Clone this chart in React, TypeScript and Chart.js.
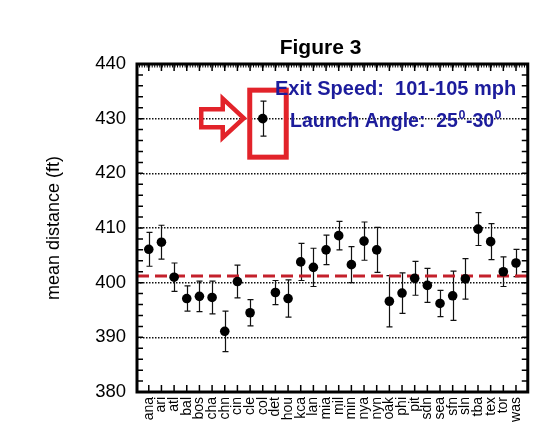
import React, { useEffect, useRef } from "react";
import { Chart, registerables } from "chart.js";

Chart.register(...registerables);

const categories = [
  "ana", "ari", "atl", "bal", "bos", "cha", "chn", "cin", "cle", "col",
  "det", "hou", "kca", "lan", "mia", "mil", "min", "nya", "nyn", "oak",
  "phi", "pit", "sdn", "sea", "sfn", "sln", "tba", "tex", "tor", "was",
];
const means = [
  406.1, 407.4, 401.0, 397.1, 397.5, 397.3, 391.1, 400.2, 394.5, 430.0,
  398.2, 397.1, 403.8, 402.8, 406.0, 408.6, 403.3, 407.6, 406.0, 396.6,
  398.1, 400.8, 399.5, 396.2, 397.6, 400.7, 409.8, 407.5, 402.0, 403.6,
];
const errors = [
  3.1, 3.1, 2.6, 2.3, 2.8, 3.0, 3.7, 3.0, 2.4, 3.2,
  2.2, 3.4, 3.4, 3.5, 2.7, 2.6, 3.3, 3.5, 4.1, 4.7,
  3.7, 3.1, 3.1, 2.4, 4.5, 3.7, 3.0, 3.3, 2.7, 2.5,
];
const leagueMean = 401.2;
const yMin = 380;
const yMax = 440;
const yStep = 10;
const xMin = -0.93;
const xMax = 29.93;
const highlightIndex = 9;
const titleText = "Figure 3";
const yTitle = "mean distance (ft)";
const note1 = "Exit Speed:  101-105 mph";
const note2 = ["Launch Angle:  25", "0", "-30", "0"];

const FONT = "'Liberation Sans', Arial, Helvetica, sans-serif";

const decorPlugin = {
  id: "decor",
  beforeDatasetsDraw(chart: any) {
    const { ctx, scales } = chart;
    const x = scales.x;
    const y = scales.y;
    ctx.save();
    ctx.strokeStyle = "#111";
    ctx.lineWidth = 1.2;
    means.forEach((m, i) => {
      const px = Math.round(x.getPixelForValue(i)) + 0.5;
      const top = y.getPixelForValue(m + errors[i]);
      const bot = y.getPixelForValue(m - errors[i]);
      ctx.beginPath();
      ctx.moveTo(px, top);
      ctx.lineTo(px, bot);
      ctx.moveTo(px - 3, top);
      ctx.lineTo(px + 3, top);
      ctx.moveTo(px - 3, bot);
      ctx.lineTo(px + 3, bot);
      ctx.stroke();
    });
    ctx.restore();
  },
  afterDraw(chart: any) {
    const { ctx, chartArea, scales } = chart;
    const x = scales.x;
    const y = scales.y;
    const { left, right, top, bottom } = chartArea;
    ctx.save();

    // axis ticks (inward)
    ctx.strokeStyle = "#000";
    ctx.lineWidth = 1.5;
    ctx.beginPath();
    categories.forEach((_, i) => {
      const px = x.getPixelForValue(i);
      ctx.moveTo(px, bottom);
      ctx.lineTo(px, bottom - 7);
      ctx.moveTo(px, top);
      ctx.lineTo(px, top + 7);
    });
    for (let v = yMin; v <= yMax; v += 2) {
      const py = y.getPixelForValue(v);
      ctx.moveTo(left, py);
      ctx.lineTo(left + 6, py);
      ctx.moveTo(right, py);
      ctx.lineTo(right - 6, py);
    }
    ctx.stroke();
    ctx.lineWidth = 1;
    ctx.beginPath();
    for (let v = xMin; v <= xMax; v += 0.2) {
      const px = x.getPixelForValue(v);
      ctx.moveTo(px, top);
      ctx.lineTo(px, top + 3.5);
    }
    ctx.stroke();

    // frame
    ctx.lineWidth = 3;
    ctx.strokeRect(left, top, right - left, bottom - top);

    // title
    ctx.fillStyle = "#000";
    ctx.font = `bold 21px ${FONT}`;
    ctx.textAlign = "center";
    ctx.textBaseline = "alphabetic";
    ctx.fillText(titleText, 320.5, 54);

    // highlight annotation
    const ax = x.getPixelForValue(highlightIndex);
    const ay = y.getPixelForValue(means[highlightIndex]);
    ctx.strokeStyle = "#e2232a";
    ctx.lineWidth = 5;
    ctx.lineJoin = "miter";
    ctx.strokeRect(ax - 13, ay - 28.5, 36.5, 67);
    ctx.lineWidth = 4.5;
    const ty = ay - 0.5;
    ctx.beginPath();
    ctx.moveTo(ax - 19, ty);
    ctx.lineTo(ax - 40, ty - 19.5);
    ctx.lineTo(ax - 40, ty - 9);
    ctx.lineTo(ax - 61.5, ty - 9);
    ctx.lineTo(ax - 61.5, ty + 9);
    ctx.lineTo(ax - 40, ty + 9);
    ctx.lineTo(ax - 40, ty + 19.5);
    ctx.closePath();
    ctx.stroke();

    // blue notes
    ctx.fillStyle = "#1c1c9c";
    ctx.textAlign = "left";
    ctx.font = `bold 20px ${FONT}`;
    ctx.fillText(note1, 275, 95);
    let cx = 290;
    const base = 127;
    note2.forEach((part, i) => {
      const sup = i % 2 === 1;
      ctx.font = sup ? `bold 12.5px ${FONT}` : `bold 19.5px ${FONT}`;
      ctx.fillText(part, cx, sup ? base - 8 : base);
      cx += ctx.measureText(part).width + 0.5;
    });

    ctx.restore();
  },
};

export default function App() {
  const ref = useRef<HTMLCanvasElement | null>(null);
  useEffect(() => {
    document.body.style.margin = "0";
    const canvas = ref.current;
    if (!canvas) return;
    const chart = new Chart(canvas, {
      type: "scatter",
      data: {
        datasets: [
          {
            data: means.map((m, i) => ({ x: i, y: m })),
            backgroundColor: "#000",
            borderColor: "#000",
            pointRadius: 4.8,
            pointHoverRadius: 4.8,
            borderWidth: 0,
          },
          {
            type: "line",
            data: [
              { x: xMin, y: leagueMean },
              { x: xMax, y: leagueMean },
            ],
            borderColor: "#c4202b",
            borderWidth: 3,
            borderDash: [12, 6],
            pointRadius: 0,
            fill: false,
            showLine: true,
          } as any,
        ],
      },
      options: {
        responsive: false,
        animation: false,
        events: [],
        layout: { padding: { top: 64, right: 7, left: 0, bottom: 0 } },
        plugins: {
          legend: { display: false },
          tooltip: { enabled: false },
          title: { display: false },
        },
        scales: {
          x: {
            type: "linear",
            min: xMin,
            max: xMax,
            afterBuildTicks: (s: any) => {
              s.ticks = categories.map((_, i) => ({ value: i }));
            },
            afterFit: (s: any) => {
              s.height = 37;
            },
            grid: { display: false, drawTicks: false },
            border: { display: false },
            ticks: {
              autoSkip: false,
              minRotation: 90,
              maxRotation: 90,
              padding: 5,
              color: "#000",
              font: { family: FONT, size: 14 },
              callback: (v: any) => categories[Math.round(Number(v))] ?? "",
            },
          },
          y: {
            min: yMin,
            max: yMax,
            afterFit: (s: any) => {
              s.width = 137;
            },
            grid: {
              color: (c: any) =>
                c.tick && c.tick.value > yMin && c.tick.value < yMax ? "#111" : "rgba(0,0,0,0)",
              lineWidth: 1.5,
              drawTicks: false,
            },
            border: { display: false, dash: [1.5, 1.5] },
            ticks: {
              stepSize: yStep,
              padding: 11,
              color: "#000",
              font: { family: FONT, size: 18.5 },
            },
            title: {
              display: true,
              text: yTitle,
              color: "#000",
              font: { family: FONT, size: 18 },
              padding: { top: 43, bottom: 0 },
            },
          },
        },
      } as any,
      plugins: [decorPlugin],
    });
    return () => chart.destroy();
  }, []);
  return (
    <div style={{ width: 538, height: 429, background: "#fff" }}>
      <canvas ref={ref} width={538} height={429} style={{ display: "block" }} />
    </div>
  );
}
